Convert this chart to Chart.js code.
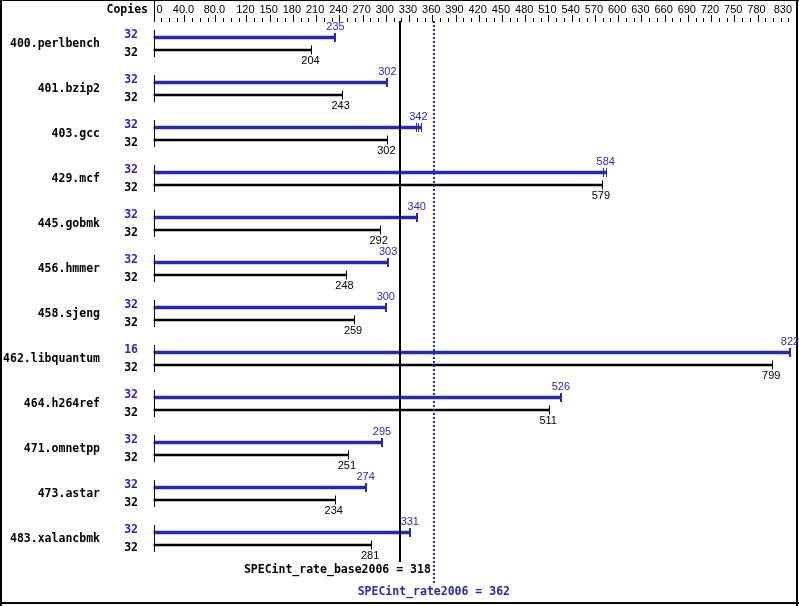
<!DOCTYPE html>
<html>
<head>
<meta charset="utf-8">
<script src="https://cdn.jsdelivr.net/npm/chart.js@4"></script>
<style>
  body { margin: 0; background: #fff; }
  canvas { display: block; }
</style>
</head>
<body>
<canvas id="specChart" width="799" height="606"></canvas>
<script>
// benchmark data
const benchmarks = ['400.perlbench', '401.bzip2', '403.gcc', '429.mcf', '445.gobmk', '456.hmmer',
    '458.sjeng', '462.libquantum', '464.h264ref', '471.omnetpp', '473.astar', '483.xalancbmk'];
const peakValues = [235, 302, 342, 584, 340, 303, 300, 822, 526, 295, 274, 331];
const baseValues = [204, 243, 302, 579, 292, 248, 259, 799, 511, 251, 234, 281];
const peakCopies = [32, 32, 32, 32, 32, 32, 32, 16, 32, 32, 32, 32];
const baseCopies = [32, 32, 32, 32, 32, 32, 32, 32, 32, 32, 32, 32];
// extra run marks on the peak bars (403.gcc and 429.mcf)
const peakRuns = [[235], [302], [339, 342, 345], [581, 584], [340], [303], [300], [822], [526], [295], [274], [331]];

const tickValues = [0, 40, 80, 120, 150, 180, 210, 240, 270, 300, 330, 360, 390, 420, 450, 480,
    510, 540, 570, 600, 630, 660, 690, 720, 750, 780, 830];
const tickLabels = ['0', '40.0', '80.0', '120', '150', '180', '210', '240', '270', '300', '330', '360',
    '390', '420', '450', '480', '510', '540', '570', '600', '630', '660', '690', '720', '750', '780', '830'];

const baseScore = 318;
const peakScore = 362;

const BLUE = '#2a2aa8';
const BLACK = '#000';
const ROW = 45;   // distance between benchmarks
const PAIR = 12;  // distance between peak and base bar

// peak bar is 3px thick, nudge half a pixel so it lands on whole pixels
const peakPoints = benchmarks.map((_, i) => ({ x: Math.max(...peakRuns[i]), y: i * ROW - 0.5 }));
const basePoints = benchmarks.map((_, i) => ({ x: baseValues[i], y: i * ROW + PAIR }));

const monoBold = 'bold 11.5px "DejaVu Sans Mono"';
const sans = '11px "Liberation Sans"';

const specPlugin = {
    id: 'specDecor',
    afterDraw(chart) {
        const ctx = chart.ctx;
        const xs = chart.scales.x;
        const ys = chart.scales.y;
        const area = chart.chartArea;
        const px = v => Math.round(xs.getPixelForValue(v)) + 0.5;

        ctx.save();

        // frame
        ctx.fillStyle = BLACK;
        ctx.fillRect(0, 0, 799, 1);
        ctx.fillRect(0, 0, 2, 606);
        ctx.fillRect(796, 0, 2, 606);
        ctx.fillRect(0, 602, 799, 2);

        // top axis
        ctx.strokeStyle = BLACK;
        ctx.lineWidth = 1;
        ctx.beginPath();
        ctx.moveTo(px(0), 0);
        ctx.lineTo(px(0), 22);
        for (let v = 10; v <= 830; v += 10) {
            const tall = tickValues.includes(v);
            ctx.moveTo(px(v), tall ? 15 : 18);
            ctx.lineTo(px(v), 22);
        }
        ctx.stroke();

        ctx.font = sans;
        ctx.textBaseline = 'middle';
        tickValues.forEach((v, i) => {
            const x = xs.getPixelForValue(v);
            const w = ctx.measureText(tickLabels[i]).width;
            if (x - w / 2 < area.left) {
                ctx.textAlign = 'left';
                ctx.fillText(tickLabels[i], x + 3, 10);
            } else if (x + w / 2 > area.right - 4) {
                ctx.textAlign = 'right';
                ctx.fillText(tickLabels[i], area.right - 5, 10);
            } else {
                ctx.textAlign = 'center';
                ctx.fillText(tickLabels[i], x - 1, 10);
            }
        });

        ctx.font = monoBold;
        ctx.textAlign = 'right';
        ctx.fillText('Copies', 148, 10);

        // benchmark rows
        benchmarks.forEach((name, i) => {
            const yPeak = ys.getPixelForValue(i * ROW);
            const yBase = ys.getPixelForValue(i * ROW + PAIR);

            ctx.font = monoBold;
            ctx.textAlign = 'right';
            ctx.fillStyle = BLACK;
            ctx.fillText(name, 100, (yPeak + yBase) / 2);
            ctx.fillStyle = BLUE;
            ctx.fillText(String(peakCopies[i]), 138, yPeak - 3);
            ctx.fillStyle = BLACK;
            ctx.fillText(String(baseCopies[i]), 138, yBase + 3);

            // start tick spanning both bars
            ctx.strokeStyle = BLACK;
            ctx.lineWidth = 1;
            ctx.beginPath();
            ctx.moveTo(px(0), yPeak - 8);
            ctx.lineTo(px(0), yBase + 7);
            ctx.stroke();

            // end caps (thin ones when several runs are shown)
            const runs = peakRuns[i];
            ctx.strokeStyle = BLUE;
            ctx.lineWidth = runs.length > 1 ? 1 : 2;
            ctx.beginPath();
            runs.forEach(r => {
                const x = runs.length > 1 ? px(r) : Math.round(xs.getPixelForValue(r));
                ctx.moveTo(x, yPeak - 5);
                ctx.lineTo(x, yPeak + 4);
            });
            ctx.stroke();
            ctx.strokeStyle = BLACK;
            ctx.lineWidth = 1;
            ctx.beginPath();
            ctx.moveTo(px(baseValues[i]), yBase - 4.5);
            ctx.lineTo(px(baseValues[i]), yBase + 4.5);
            ctx.stroke();

            // value labels
            ctx.font = sans;
            ctx.textAlign = 'center';
            ctx.fillStyle = BLUE;
            ctx.fillText(String(peakValues[i]), xs.getPixelForValue(peakValues[i]), yPeak - 11);
            ctx.fillStyle = BLACK;
            ctx.fillText(String(baseValues[i]), xs.getPixelForValue(baseValues[i]) - 1, yBase + 11);
        });

        // overall scores
        const xb = xs.getPixelForValue(baseScore);
        const xp = xs.getPixelForValue(peakScore);
        ctx.strokeStyle = BLACK;
        ctx.lineWidth = 2;
        ctx.beginPath();
        ctx.moveTo(Math.round(xb), 21);
        ctx.lineTo(Math.round(xb), 562);
        ctx.stroke();

        ctx.strokeStyle = BLUE;
        ctx.setLineDash([2, 2]);
        ctx.beginPath();
        ctx.moveTo(Math.round(xp), 21);
        ctx.lineTo(Math.round(xp), 583);
        ctx.stroke();
        ctx.setLineDash([]);

        ctx.font = monoBold;
        ctx.fillStyle = BLACK;
        ctx.textAlign = 'right';
        ctx.fillText('SPECint_rate_base2006 = ' + baseScore, xp - 3, 570);
        ctx.fillStyle = BLUE;
        ctx.textAlign = 'center';
        ctx.fillText('SPECint_rate2006 = ' + peakScore, xp, 592);

        ctx.restore();
    }
};

new Chart(document.getElementById('specChart'), {
    type: 'bar',
    data: {
        datasets: [
            {
                label: 'peak',
                data: peakPoints,
                backgroundColor: BLUE,
                barThickness: 3,
                grouped: false
            },
            {
                label: 'base',
                data: basePoints,
                backgroundColor: BLACK,
                barThickness: 2,
                grouped: false
            }
        ]
    },
    options: {
        indexAxis: 'y',
        responsive: false,
        animation: false,
        layout: { padding: { left: 153.5, right: 2, top: 20, bottom: 2 } },
        plugins: {
            legend: { display: false },
            tooltip: { enabled: false }
        },
        scales: {
            x: { type: 'linear', min: 0, max: 831, display: false },
            y: { type: 'linear', min: -18, max: 566, reverse: true, offset: false, display: false }
        }
    },
    plugins: [specPlugin]
});
</script>
</body>
</html>
